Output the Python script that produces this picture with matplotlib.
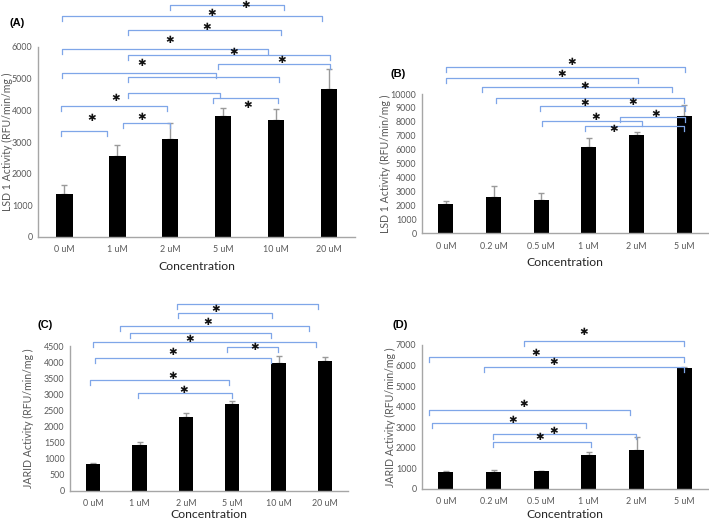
import matplotlib
matplotlib.use("Agg")
import matplotlib.pyplot as plt

W, H = 709, 521

# 数据
conc_ac = ["0 uM", "1 uM", "2 uM", "5 uM", "10 uM", "20 uM"]
conc_bd = ["0 uM", "0.2 uM", "0.5 uM", "1 uM", "2 uM", "5 uM"]

lsd1_a = [1370, 2560, 3090, 3820, 3680, 4680]
lsd1_a_err = [280, 360, 520, 260, 360, 640]
lsd1_b = [2080, 2630, 2390, 6220, 7060, 8420]
lsd1_b_err = [220, 790, 480, 620, 190, 770]
jarid_c = [819, 1420, 2300, 2696, 3981, 4033]
jarid_c_err = [30, 85, 125, 85, 210, 135]
jarid_d = [827, 810, 875, 1637, 1896, 5900]
jarid_d_err = [35, 115, 15, 180, 615, 30]

# 显著性括号 (起点, 终点, 高度) 和星号 (x, y)
brackets_a = [(1.99, 4.14, 7316), (-0.05, 4.86, 6979), (1.21, 4.09, 6526), (-0.05, 3.85, 5947),
              (1.21, 5.01, 5737), (2.91, 5.01, 5453), (-0.05, 2.87, 5190), (1.21, 4.06, 5053),
              (1.21, 2.94, 4558), (2.81, 4.04, 4400), (-0.07, 1.94, 4126), (1.11, 1.99, 3600),
              (-0.07, 0.81, 3347)]
stars_a = [(3.42, 7316), (2.78, 7084), (2.69, 6632), (1.99, 6210), (3.19, 5842), (4.10, 5600),
           (1.46, 5495), (3.47, 4179), (0.96, 4400), (1.46, 3789), (0.52, 3768)]

brackets_b = [(0.01, 5.02, 11960), (0.01, 4.04, 11124), (0.75, 4.75, 10526), (1.06, 4.99, 9689),
              (1.97, 5.02, 9139), (3.66, 5.02, 8373), (2.01, 4.11, 8086), (2.91, 5.0, 7703)]
stars_b = [(2.65, 12320), (2.43, 11410), (2.91, 10574), (3.92, 9450), (2.91, 9378), (4.41, 8565),
           (3.15, 8325), (3.53, 7512)]

brackets_c = [(1.80, 4.86, 5806), (1.83, 3.87, 5537), (0.58, 4.66, 5122), (0.79, 3.83, 4894),
              (0.0, 4.82, 4635), (2.88, 3.98, 4458), (0.04, 3.83, 4137), (-0.06, 2.94, 3442),
              (0.97, 2.99, 3048)]
stars_c = [(2.65, 5640), (2.47, 5257), (2.09, 4718), (3.49, 4458), (1.71, 4324), (1.71, 3577),
           (1.96, 3131)]

brackets_d = [(1.64, 5.0, 7212), (-0.35, 5.0, 6434), (0.80, 5.0, 5948), (-0.35, 3.86, 3841),
              (-0.28, 2.95, 3193), (0.99, 3.99, 2674), (0.99, 3.04, 2269)]
stars_d = [(2.90, 7650), (1.89, 6596), (2.27, 6191), (1.64, 4117), (1.40, 3355), (2.27, 2820),
           (1.96, 2545)]

plt.rcParams['font.family'] = ['Lato', 'DejaVu Sans']

AXIS_GRAY = '#A6A6A6'
TEXT_GRAY = '#595959'
BRACKET_BLUE = '#7FA6E8'

fig = plt.figure(figsize=(W / 100, H / 100), dpi=100)


def px_text(x, y, s, **kw):
    fig.text(x / W, 1 - y / H, s, **kw)


def make_panel(rect, cats, vals, errs, ymax, step, brackets, stars, ylabel, tag, tag_xy, ylab_x, xlab_y):
    left, right, top, bottom = rect
    ax = fig.add_axes([left / W, 1 - bottom / H, (right - left) / W, (bottom - top) / H])
    x = list(range(len(cats)))
    ax.bar(x, vals, width=0.31, color='black', zorder=2)
    ax.errorbar(x, vals, yerr=[[0] * len(errs), errs], fmt='none', ecolor='#9A9A9A',
                elinewidth=1, capsize=2, capthick=1, zorder=1)
    ax.set_xlim(-0.5, len(cats) - 0.5)
    ax.set_ylim(0, ymax)
    ax.set_yticks(range(0, ymax + 1, step))
    ax.set_xticks(x)
    ax.set_xticklabels(cats)
    ax.tick_params(length=0, labelsize=6.4, labelcolor=TEXT_GRAY)
    ax.tick_params(axis='x', pad=6)
    ax.tick_params(axis='y', pad=4)
    for side in ['top', 'right']:
        ax.spines[side].set_visible(False)
    for side in ['left', 'bottom']:
        ax.spines[side].set_color(AXIS_GRAY)
        ax.spines[side].set_linewidth(1)

    # 括号腿长约 5 像素
    leg = 5 * ymax / (bottom - top)
    for x0, x1, y in brackets:
        ax.plot([x0, x0, x1, x1], [y - leg, y, y, y - leg], color=BRACKET_BLUE, lw=0.9,
                clip_on=False, zorder=3)
    for sx, sy in stars:
        ax.text(sx, sy, '✱', ha='center', va='center', fontsize=7.5, fontweight='bold',
                color='#111111', family='DejaVu Sans', clip_on=False, zorder=4)

    px_text(ylab_x, (top + bottom) / 2, ylabel, rotation=90, ha='center', va='center',
            fontsize=7.6, color=TEXT_GRAY)
    px_text((left + right) / 2, xlab_y, 'Concentration', ha='center', va='center',
            fontsize=8.8, color='#262626')
    px_text(tag_xy[0], tag_xy[1], tag, ha='center', va='center', fontsize=8,
            fontweight='bold', family='Liberation Sans')
    return ax


make_panel((38, 355.5, 47, 237), conc_ac, lsd1_a, lsd1_a_err, 6000, 1000, brackets_a, stars_a,
           'LSD 1 Activity (RFU/min/mg )', '(A)', (17, 23), 7, 266)
make_panel((422, 708, 94, 233.3), conc_bd, lsd1_b, lsd1_b_err, 10000, 1000, brackets_b, stars_b,
           'LSD 1 Activity (RFU/min/mg )', '(B)', (398, 74), 385, 263)
make_panel((70, 348, 346, 490.7), conc_ac, jarid_c, jarid_c_err, 4500, 500, brackets_c, stars_c,
           'JARID Activity (RFU/min/mg )', '(C)', (45, 325), 28, 514)
make_panel((422, 708, 345, 489), conc_bd, jarid_d, jarid_d_err, 7000, 1000, brackets_d, stars_d,
           'JARID Activity (RFU/min/mg )', '(D)', (400, 325), 390, 514)

fig.savefig('out.png', dpi=100)
